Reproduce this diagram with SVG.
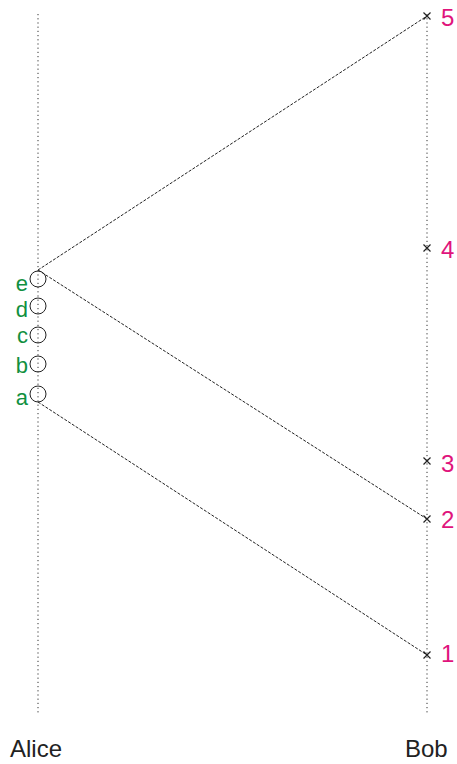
<svg xmlns="http://www.w3.org/2000/svg" width="457" height="764" viewBox="0 0 457 764">
<style>
.life{stroke:#333;stroke-width:1;stroke-dasharray:1.2 3;fill:none}
.msg{stroke:#222;stroke-width:1;stroke-dasharray:3 1.5;fill:none}
.ev{fill:none;stroke:#222;stroke-width:1}
.x{stroke:#222;stroke-width:1.2}
.num{font-family:"Liberation Sans",Arial,sans-serif;font-size:24px;fill:#e0147c}
.let{font-family:"Liberation Sans",Arial,sans-serif;font-size:22px;fill:#109040;text-anchor:end}
.name{font-family:"Liberation Sans",Arial,sans-serif;font-size:24px;fill:#222}
</style>
<g id="lifelines">
<line class="life" x1="38" y1="14" x2="38" y2="714"/>
<line class="life" x1="427" y1="14" x2="427" y2="714"/>
</g>
<g id="connectors">
<line class="msg" x1="38" y1="270" x2="427" y2="16"/>
<line class="msg" x1="38" y1="270" x2="427" y2="519"/>
<line class="msg" x1="38" y1="402" x2="427" y2="655"/>
</g>
<g id="alice">
<text class="name" x="10" y="757">Alice</text>
</g>
<g id="bob">
<text class="name" x="405" y="757">Bob</text>
</g>
<g id="event-e"><circle class="ev" cx="38" cy="279" r="8"/><text class="let" x="28" y="291">e</text></g>
<g id="event-d"><circle class="ev" cx="38" cy="306" r="8"/><text class="let" x="28" y="317">d</text></g>
<g id="event-c"><circle class="ev" cx="38" cy="335" r="8"/><text class="let" x="28" y="343">c</text></g>
<g id="event-b"><circle class="ev" cx="38" cy="364" r="8"/><text class="let" x="28" y="373">b</text></g>
<g id="event-a"><circle class="ev" cx="38" cy="394" r="8"/><text class="let" x="28" y="405">a</text></g>
<g id="event-5"><path class="x" d="M423.5 12.5l7 7M430.5 12.5l-7 7"/><text class="num" x="441" y="26">5</text></g>
<g id="event-4"><path class="x" d="M423.5 244.5l7 7M430.5 244.5l-7 7"/><text class="num" x="441" y="258">4</text></g>
<g id="event-3"><path class="x" d="M423.5 457.5l7 7M430.5 457.5l-7 7"/><text class="num" x="441" y="472">3</text></g>
<g id="event-2"><path class="x" d="M423.5 515.5l7 7M430.5 515.5l-7 7"/><text class="num" x="441" y="528">2</text></g>
<g id="event-1"><path class="x" d="M423.5 651.5l7 7M430.5 651.5l-7 7"/><text class="num" x="441" y="662">1</text></g>
</svg>
